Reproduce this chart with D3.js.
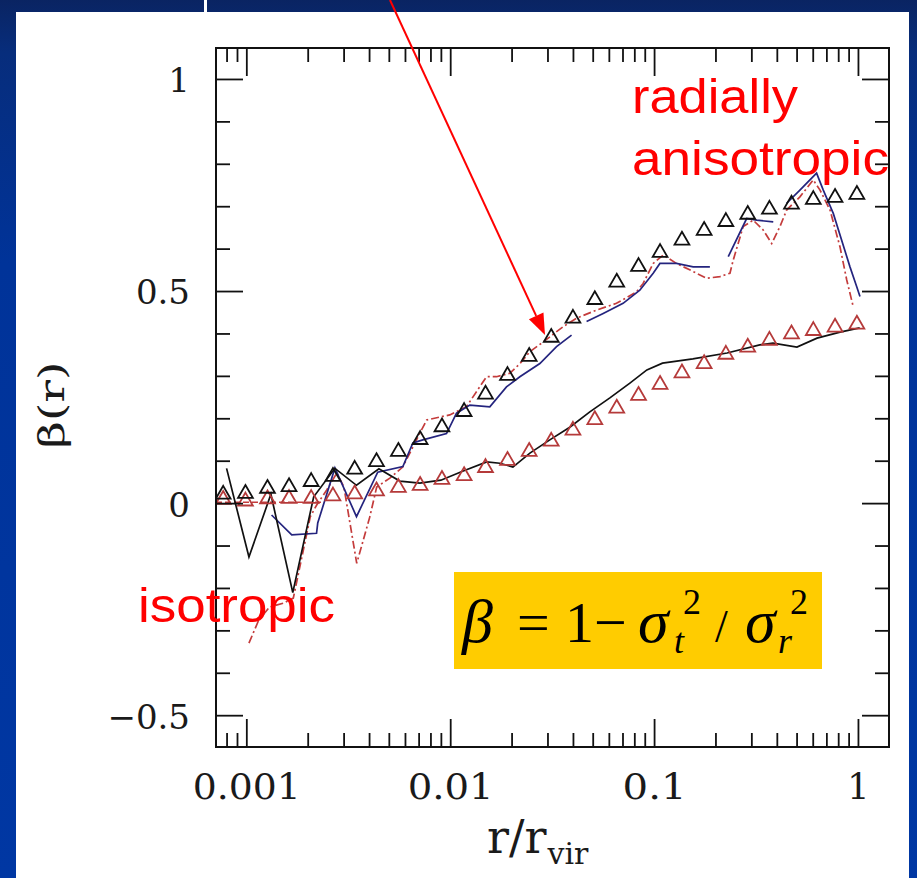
<!DOCTYPE html>
<html>
<head>
<meta charset="utf-8">
<script src="https://cdn.jsdelivr.net/npm/d3@7"></script>
<style>
  html, body { margin: 0; padding: 0; overflow: hidden; background: #fff; }
  svg { display: block; }
</style>
</head>
<body>
<div id="chart"></div>
<script>
// radii of the two sets of triangle points (r / r_vir)
const sampleR = [0.00077, 0.00099, 0.00127, 0.00162, 0.00208, 0.00266, 0.0034, 0.00435, 0.00557, 0.00712,
  0.00911, 0.0117, 0.0149, 0.0191, 0.0244, 0.0313, 0.04, 0.0512, 0.0656, 0.0839,
  0.107, 0.137, 0.176, 0.225, 0.288, 0.368, 0.472, 0.604, 0.772, 0.988];

// black open triangles (radially anisotropic model)
const upperBeta = [0.024, 0.026, 0.038, 0.042, 0.054, 0.066, 0.083, 0.101, 0.125, 0.153,
  0.183, 0.219, 0.260, 0.304, 0.349, 0.394, 0.439, 0.483, 0.524, 0.561,
  0.594, 0.623, 0.646, 0.667, 0.684, 0.696, 0.708, 0.719, 0.724, 0.731];

// red open triangles
const lowerBeta = [0.012, 0.008, 0.013, 0.014, 0.014, 0.020, 0.025, 0.032, 0.040, 0.045,
  0.059, 0.068, 0.087, 0.104, 0.125, 0.149, 0.175, 0.200, 0.227, 0.257,
  0.283, 0.310, 0.332, 0.354, 0.371, 0.387, 0.402, 0.410, 0.418, 0.425];

// simulation profiles [r, beta]
const blackLine = [[0.0008, 0.082], [0.00103, -0.127], [0.00132, 0.021], [0.00169, -0.211], [0.00214, 0.015],
  [0.00272, 0.082], [0.00347, 0.042], [0.00447, 0.081], [0.00566, 0.052], [0.0071, 0.047],
  [0.009, 0.054], [0.0115, 0.075], [0.0151, 0.097], [0.0175, 0.094], [0.0203, 0.085],
  [0.0246, 0.118], [0.0308, 0.149], [0.0386, 0.179], [0.0484, 0.215], [0.0607, 0.248],
  [0.0761, 0.283], [0.0922, 0.314], [0.110, 0.330], [0.155, 0.340], [0.228, 0.354],
  [0.330, 0.373], [0.383, 0.377], [0.502, 0.368], [0.630, 0.389], [0.817, 0.403], [1.02, 0.413]];

const blueLine = [[0.00133, -0.028], [0.00167, -0.075], [0.00221, -0.071], [0.00224, -0.047], [0.00272, 0.083],
  [0.00347, -0.032], [0.00441, 0.073], [0.00586, 0.086], [0.00656, 0.142], [0.00734, 0.149],
  [0.00959, 0.164], [0.01074, 0.212], [0.01248, 0.231], [0.01564, 0.227], [0.01888, 0.274],
  [0.02196, 0.298], [0.02753, 0.329], [0.03323, 0.369], [0.03938, 0.396], [0.043, NaN],
  [0.04666, 0.428], [0.05629, 0.447], [0.07047, 0.471], [0.08511, 0.502], [0.0990, 0.542],
  [0.1068, 0.565], [0.1288, 0.565], [0.1555, 0.557], [0.1878, 0.557], [0.21, NaN],
  [0.2311, 0.581], [0.2845, 0.671], [0.3185, 0.667], [0.3842, 0.663], [0.42, NaN],
  [0.4470, 0.707], [0.5192, 0.738], [0.6267, 0.778], [0.6760, 0.738], [0.7568, 0.683],
  [0.9138, 0.557], [0.9863, 0.510], [1.023, 0.487]];

const redLine = [[0.00103, -0.330], [0.00115, -0.276], [0.0013, -0.245], [0.00152, -0.236], [0.0017, -0.224],
  [0.00206, -0.032], [0.00221, -0.005], [0.00248, 0.031], [0.00278, 0.071], [0.00301, 0.038],
  [0.00348, -0.142], [0.00403, -0.033], [0.00436, 0.038], [0.00506, 0.059], [0.00585, 0.085],
  [0.00634, 0.118], [0.0071, 0.165], [0.00767, 0.196], [0.00995, 0.208], [0.0120, 0.227],
  [0.01507, 0.298], [0.01687, 0.298], [0.0196, 0.306], [0.022, 0.329], [0.0246, 0.357],
  [0.0286, 0.380], [0.0358, 0.416], [0.0417, 0.436], [0.0522, 0.455], [0.0654, 0.471],
  [0.0820, 0.498], [0.0884, 0.518], [0.0990, 0.565], [0.1109, 0.585], [0.1288, 0.565],
  [0.1555, 0.546], [0.181, 0.530], [0.2104, 0.534], [0.2355, 0.542], [0.2445, 0.573],
  [0.2736, 0.652], [0.3063, 0.667], [0.3429, 0.644], [0.3775, 0.612], [0.4143, 0.652],
  [0.4470, 0.691], [0.5192, 0.722], [0.6035, 0.762], [0.6516, 0.738], [0.7295, 0.691],
  [0.8166, 0.604], [0.8810, 0.526], [0.9484, 0.463]];

const redFlat = [[0.00071, 0.002], [0.0024, 0.002]];

// axes
const xMajorTicks = [0.001, 0.01, 0.1, 1];
const xTickLabels = ["0.001", "0.01", "0.1", "1"];
const yMajorTicks = [-0.5, 0, 0.5, 1];
const yTickLabels = ["\u22120.5", "0", "0.5", "1"];

(function() {
  const W = 917, H = 878;
  const frame = {left: 216, right: 889, top: 48, bottom: 747};

  const x = d3.scaleLog().domain([0.00071, 1.42]).range([frame.left, frame.right]);
  const y = d3.scaleLinear().domain([-0.575, 1.073]).range([frame.bottom, frame.top]);

  const svg = d3.select("#chart").append("svg")
    .attr("width", W)
    .attr("height", H);

  /////////////////////////////////////////////////////////////////////////
  // Slide background
  const defs = svg.append("defs");
  const grad = defs.append("linearGradient")
    .attr("id", "bg").attr("x1", 0).attr("y1", 0).attr("x2", 0).attr("y2", 1);
  [[0, "#0a2462"], [0.06, "#072d7c"], [0.3, "#003399"], [1, "#0037a3"]].forEach(s =>
    grad.append("stop").attr("offset", s[0]).attr("stop-color", s[1]));

  defs.append("clipPath").attr("id", "plot-clip")
    .append("rect")
      .attr("x", frame.left).attr("y", frame.top)
      .attr("width", frame.right - frame.left).attr("height", frame.bottom - frame.top);

  svg.append("rect").attr("width", W).attr("height", H).attr("fill", "url(#bg)");
  svg.append("rect").attr("x", 16).attr("y", 12).attr("width", 893).attr("height", H - 12).attr("fill", "#fff");
  svg.append("rect").attr("x", 204).attr("y", 0).attr("width", 3).attr("height", 12).attr("fill", "#fff");

  /////////////////////////////////////////////////////////////////////////
  // Curves
  const plot = svg.append("g").attr("clip-path", "url(#plot-clip)");

  const line = d3.line()
    .defined(d => !isNaN(d[1]))
    .x(d => x(d[0]))
    .y(d => y(d[1]));

  plot.append("path").datum(redFlat)
    .attr("d", line).attr("fill", "none")
    .attr("stroke", "#c43c3c").attr("stroke-width", 1.7).attr("stroke-dasharray", "6,3");

  plot.append("path").datum(redLine)
    .attr("d", line).attr("fill", "none")
    .attr("stroke", "#c43c3c").attr("stroke-width", 1.7).attr("stroke-dasharray", "8,3,2,3");

  plot.append("path").datum(blueLine)
    .attr("d", line).attr("fill", "none")
    .attr("stroke", "#24247e").attr("stroke-width", 1.7);

  plot.append("path").datum(blackLine)
    .attr("d", line).attr("fill", "none")
    .attr("stroke", "#111").attr("stroke-width", 1.7);

  // Triangles
  const tri = d3.symbol().type(d3.symbolTriangle).size(95);

  plot.append("g").selectAll("path")
    .data(sampleR.map((r, i) => [r, lowerBeta[i]]))
    .enter().append("path")
      .attr("transform", d => `translate(${x(d[0])}, ${y(d[1]) + 1.5})`)
      .attr("d", tri)
      .attr("fill", "none").attr("stroke", "#b53a3a").attr("stroke-width", 1.8);

  plot.append("g").selectAll("path")
    .data(sampleR.map((r, i) => [r, upperBeta[i]]))
    .enter().append("path")
      .attr("transform", d => `translate(${x(d[0])}, ${y(d[1]) + 1.5})`)
      .attr("d", tri)
      .attr("fill", "none").attr("stroke", "#111").attr("stroke-width", 1.8);

  /////////////////////////////////////////////////////////////////////////
  // Frame and ticks
  const isDecade = t => Math.abs(Math.log10(t) - Math.round(Math.log10(t))) < 1e-6;
  const xMinor = x.ticks().filter(t => !isDecade(t));
  const yMinor = y.ticks(16).filter(t => !yMajorTicks.some(m => Math.abs(m - t) < 1e-9));

  const tickAxis = (axis, values, size, tx, ty) => {
    svg.append("g")
      .attr("transform", `translate(${tx}, ${ty})`)
      .call(axis.tickValues(values).tickSize(size).tickFormat(""))
      .call(g => g.select(".domain").remove())
      .call(g => g.selectAll("line").attr("stroke", "#111").attr("stroke-width", 1.8));
  };

  tickAxis(d3.axisBottom(x), xMinor, -14, 0, frame.bottom);
  tickAxis(d3.axisBottom(x), xMajorTicks, -28, 0, frame.bottom);
  tickAxis(d3.axisTop(x), xMinor, -14, 0, frame.top);
  tickAxis(d3.axisTop(x), xMajorTicks, -28, 0, frame.top);
  tickAxis(d3.axisLeft(y), yMinor, -14, frame.left, 0);
  tickAxis(d3.axisLeft(y), yMajorTicks, -27, frame.left, 0);
  tickAxis(d3.axisRight(y), yMinor, -14, frame.right, 0);
  tickAxis(d3.axisRight(y), yMajorTicks, -27, frame.right, 0);

  svg.append("rect")
    .attr("x", frame.left).attr("y", frame.top)
    .attr("width", frame.right - frame.left).attr("height", frame.bottom - frame.top)
    .attr("fill", "none").attr("stroke", "#111").attr("stroke-width", 2);

  // Tick labels
  svg.append("g")
    .attr("transform", `translate(0, ${frame.bottom})`)
    .call(d3.axisBottom(x).tickValues(xMajorTicks).tickSize(0).tickPadding(27)
      .tickFormat((d, i) => xTickLabels[i]))
    .call(g => g.select(".domain").remove())
    .call(g => g.selectAll("text")
      .attr("font-family", "DejaVu Serif").attr("font-size", 35).attr("fill", "#1a1a1a")
      .attr("textLength", (d, i) => xTickLabels[i].length > 1 ? xTickLabels[i].length * 22 - 2 : null)
      .attr("lengthAdjust", "spacingAndGlyphs"));

  svg.append("g")
    .attr("transform", `translate(${frame.left}, 0)`)
    .call(d3.axisLeft(y).tickValues(yMajorTicks).tickSize(0).tickPadding(26)
      .tickFormat((d, i) => yTickLabels[i]))
    .call(g => g.select(".domain").remove())
    .call(g => g.selectAll("text")
      .attr("dy", "0.38em")
      .attr("font-family", "DejaVu Serif").attr("font-size", 34).attr("fill", "#1a1a1a"));

  // Axis titles
  svg.append("text")
    .attr("transform", "translate(64, 405) rotate(-90)")
    .attr("text-anchor", "middle")
    .attr("font-family", "DejaVu Serif").attr("font-size", 36).attr("fill", "#1a1a1a")
    .attr("textLength", 87).attr("lengthAdjust", "spacingAndGlyphs")
    .text("\u03b2(r)");

  const xt = svg.append("text")
    .attr("x", 487).attr("y", 853)
    .attr("font-family", "DejaVu Serif").attr("fill", "#1a1a1a").attr("font-size", 46);
  xt.append("tspan").text("r/r");
  xt.append("tspan").attr("dy", 11).attr("dx", 1).attr("font-size", 30).text("vir");

  /////////////////////////////////////////////////////////////////////////
  // Annotations
  const a0 = [390, 0], a1 = [545, 335];
  const dx = a1[0] - a0[0], dy = a1[1] - a0[1], len = Math.hypot(dx, dy);
  const ux = dx / len, uy = dy / len;
  const headL = 21, headW = 8;
  const bx = a1[0] - ux * headL, by = a1[1] - uy * headL;
  svg.append("line")
    .attr("x1", a0[0]).attr("y1", a0[1]).attr("x2", bx).attr("y2", by)
    .attr("stroke", "#ff0000").attr("stroke-width", 2);
  svg.append("path")
    .attr("d", `M${a1[0]},${a1[1]}L${bx - uy * headW},${by + ux * headW}L${bx + uy * headW},${by - ux * headW}Z`)
    .attr("fill", "#ff0000");

  const note = (txt, tx, ty, w) => svg.append("text")
    .attr("x", tx).attr("y", ty)
    .attr("font-family", "Liberation Sans, Arial, sans-serif").attr("font-size", 49)
    .attr("fill", "#ff0000")
    .attr("textLength", w).attr("lengthAdjust", "spacingAndGlyphs")
    .text(txt);

  note("radially", 632, 113, 166);
  note("anisotropic", 632, 175, 257);
  note("isotropic", 138, 622, 197);

  // Formula box
  svg.append("rect")
    .attr("x", 454).attr("y", 572).attr("width", 368).attr("height", 97)
    .attr("fill", "#ffcc00");

  const f = svg.append("g")
    .attr("font-family", "Liberation Serif, Times New Roman, serif").attr("fill", "#000");
  const piece = (txt, px, py, size, italic) => f.append("text")
    .attr("x", px).attr("y", py).attr("font-size", size)
    .attr("font-style", italic ? "italic" : "normal")
    .text(txt);

  piece("\u03b2", 462, 642, 62, true);
  piece("=", 517, 642, 58, false);
  piece("1", 565, 642, 58, false);
  piece("\u2212", 594, 642, 58, false);
  piece("\u03c3", 638, 642, 62, true);
  piece("2", 683, 614, 36, false);
  piece("t", 674, 653, 36, true);
  piece("/", 715, 642, 46, false);
  piece("\u03c3", 745, 642, 62, true);
  piece("2", 790, 614, 36, false);
  piece("r", 778, 653, 36, true);
})();
</script>
</body>
</html>
